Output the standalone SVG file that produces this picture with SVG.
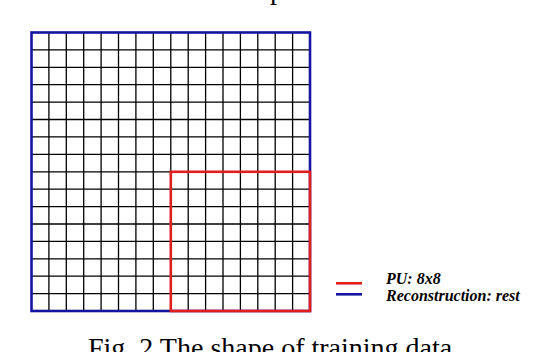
<svg xmlns="http://www.w3.org/2000/svg" width="534" height="352" viewBox="0 0 534 352">
  <style>
    .grid { stroke: #000; stroke-width: 1.3; fill: none; }
    .blue { stroke: #1414a0; stroke-width: 2.6; fill: none; }
    .red { stroke: #e01e1e; stroke-width: 2.6; fill: none; }
    .legend { font-family: "Liberation Serif", "Times New Roman", serif; font-size: 16px; font-weight: bold; font-style: italic; fill: #000; }
    .caption { font-family: "Liberation Serif", "Times New Roman", serif; font-size: 28px; fill: #000; }
  </style>
  <rect width="534" height="352" fill="#fff"/>
  <text class="caption" x="270" y="-1">p</text>
  <g id="grid">
    <path class="grid" d="M48.9 32.5V311M66.3 32.5V311M83.7 32.5V311M101.1 32.5V311M118.5 32.5V311M135.9 32.5V311M153.3 32.5V311M170.8 32.5V311M188.2 32.5V311M205.6 32.5V311M223 32.5V311M240.4 32.5V311M257.8 32.5V311M275.2 32.5V311M292.6 32.5V311"/>
    <path class="grid" d="M31.5 49.9H310M31.5 67.3H310M31.5 84.7H310M31.5 102.1H310M31.5 119.5H310M31.5 136.9H310M31.5 154.3H310M31.5 171.8H310M31.5 189.2H310M31.5 206.6H310M31.5 224H310M31.5 241.4H310M31.5 258.8H310M31.5 276.2H310M31.5 293.6H310"/>
  </g>
  <g id="reconstruction">
    <rect class="blue" x="31.5" y="32.5" width="278.5" height="278.5"/>
  </g>
  <g id="pu">
    <rect class="red" x="170.8" y="171.8" width="139.2" height="139.2"/>
  </g>
  <g id="legend">
    <line class="red" x1="336" y1="283.3" x2="362" y2="283.3"/>
    <line class="blue" x1="336" y1="294.3" x2="362" y2="294.3"/>
    <text class="legend" x="386" y="284">PU: 8x8</text>
    <text class="legend" x="386" y="301">Reconstruction: rest</text>
  </g>
  <text class="caption" x="88" y="357">Fig. 2 The shape of training data</text>
</svg>
